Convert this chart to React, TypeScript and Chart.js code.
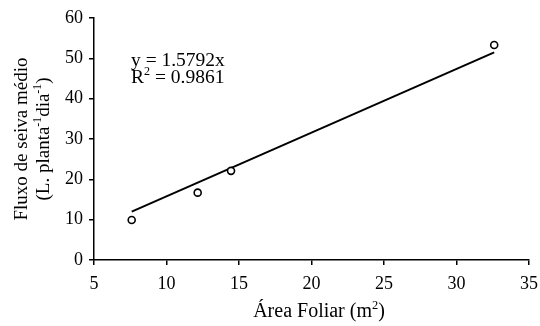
import React, { useEffect, useRef } from 'react';
import { Chart, registerables } from 'chart.js';

Chart.register(...registerables);

// Data
const areaFoliar = [7.6, 12.15, 14.45, 32.6];
const fluxoSeiva = [9.9, 16.7, 22.1, 53.3];
const trendX = [7.6, 32.6];
const trendY = [12.0, 51.48];
const xTicks = [5, 10, 15, 20, 25, 30, 35];
const yTicks = [0, 10, 20, 30, 40, 50, 60];
const equationText = 'y = 1.5792x';
const r2Text = '0.9861';

const FAM = "'Liberation Serif', 'Times New Roman', serif";

type Seg = { t: string; sup?: boolean };

function drawRich(
  ctx: CanvasRenderingContext2D,
  segs: Seg[],
  x: number,
  y: number,
  size: number,
  align: 'left' | 'center'
) {
  const supSize = size * 0.62;
  const widths = segs.map((s) => {
    ctx.font = `${s.sup ? supSize : size}px ${FAM}`;
    return ctx.measureText(s.t).width;
  });
  const total = widths.reduce((a, b) => a + b, 0);
  let cx = align === 'center' ? x - total / 2 : x;
  ctx.textAlign = 'left';
  ctx.textBaseline = 'alphabetic';
  segs.forEach((s, i) => {
    ctx.font = `${s.sup ? supSize : size}px ${FAM}`;
    ctx.fillText(s.t, cx, s.sup ? y - size * 0.4 : y);
    cx += widths[i];
  });
}

const textPlugin = {
  id: 'textPlugin',
  afterDraw(chart: any) {
    const ctx: CanvasRenderingContext2D = chart.ctx;
    const area = chart.chartArea;
    ctx.save();
    ctx.fillStyle = '#000';
    // Y axis title (two lines, rotated)
    const cy = (area.top + area.bottom) / 2;
    ctx.save();
    ctx.translate(27, cy);
    ctx.rotate(-Math.PI / 2);
    drawRich(ctx, [{ t: 'Fluxo de seiva médio' }], 0, 0, 19, 'center');
    ctx.restore();
    ctx.save();
    ctx.translate(49, cy);
    ctx.rotate(-Math.PI / 2);
    drawRich(
      ctx,
      [
        { t: '(L. planta' },
        { t: '-1', sup: true },
        { t: 'dia' },
        { t: '-1', sup: true },
        { t: ')' },
      ],
      0,
      0,
      19,
      'center'
    );
    ctx.restore();
    // X axis title
    drawRich(
      ctx,
      [{ t: 'Área Foliar (m' }, { t: '2', sup: true }, { t: ')' }],
      319,
      317,
      20,
      'center'
    );
    // Equation
    const ex = area.left + 37;
    drawRich(ctx, [{ t: equationText }], ex, area.top + 48, 19.5, 'left');
    drawRich(
      ctx,
      [{ t: 'R' }, { t: '2', sup: true }, { t: ' = ' + r2Text }],
      ex,
      area.top + 65,
      19.5,
      'left'
    );
    ctx.restore();
  },
};

export default function App() {
  const canvasRef = useRef<HTMLCanvasElement | null>(null);

  useEffect(() => {
    document.body.style.margin = '0';
    const canvas = canvasRef.current;
    if (!canvas) return;
    const points = areaFoliar.map((x, i) => ({ x, y: fluxoSeiva[i] }));
    const trend = trendX.map((x, i) => ({ x, y: trendY[i] }));
    const tickFont = { family: FAM, size: 18 };
    const chart = new Chart(canvas, {
      type: 'scatter',
      data: {
        datasets: [
          {
            data: points,
            pointStyle: 'circle',
            pointRadius: 3.5,
            pointBorderWidth: 1.6,
            borderColor: '#000',
            backgroundColor: '#fff',
          },
          {
            type: 'line',
            data: trend,
            borderColor: '#000',
            borderWidth: 2,
            pointRadius: 0,
            fill: false,
            tension: 0,
          } as any,
        ],
      },
      options: {
        animation: false,
        responsive: false,
        maintainAspectRatio: false,
        devicePixelRatio: 1,
        layout: { padding: { top: 18, right: 11, left: 0, bottom: 0 } },
        plugins: {
          legend: { display: false },
          tooltip: { enabled: false },
        },
        scales: {
          x: {
            type: 'linear',
            position: 'bottom',
            min: 5,
            max: 35,
            afterBuildTicks: (s: any) => {
              s.ticks = xTicks.map((v) => ({ value: v }));
            },
            afterFit: (s: any) => {
              s.height = 66;
              s.paddingRight = 0;
              s.paddingLeft = 0;
            },
            ticks: { color: '#000', font: tickFont, padding: 8, maxRotation: 0 },
            grid: {
              drawOnChartArea: false,
              drawTicks: true,
              tickLength: 5,
              color: '#000',
              lineWidth: 1.5,
            },
            border: { color: '#000', width: 1.5 },
          },
          y: {
            type: 'linear',
            min: 0,
            max: 60,
            afterBuildTicks: (s: any) => {
              s.ticks = yTicks.map((v) => ({ value: v }));
            },
            afterFit: (s: any) => {
              s.width = 94;
              s.paddingTop = 0;
              s.paddingBottom = 0;
            },
            ticks: { color: '#000', font: tickFont, padding: 6 },
            grid: {
              drawOnChartArea: false,
              drawTicks: true,
              tickLength: 5,
              color: '#000',
              lineWidth: 1.5,
            },
            border: { color: '#000', width: 1.5 },
          },
        },
      },
      plugins: [textPlugin],
    } as any);
    return () => chart.destroy();
  }, []);

  return (
    <div style={{ width: 540, height: 326, background: '#fff' }}>
      <canvas ref={canvasRef} width={540} height={326} style={{ display: 'block' }} />
    </div>
  );
}
